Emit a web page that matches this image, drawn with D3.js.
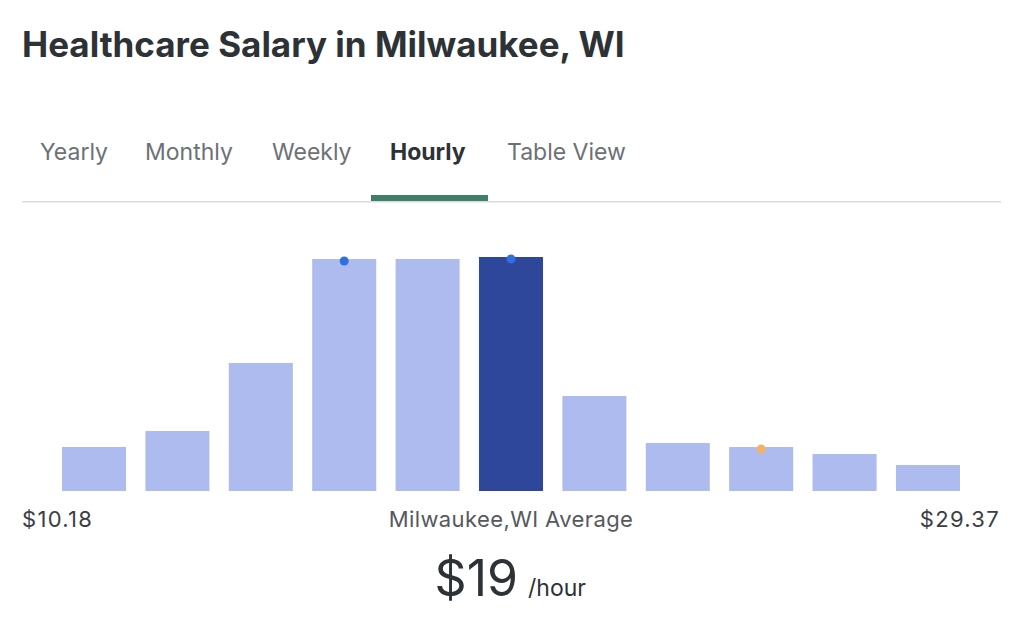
<!DOCTYPE html>
<html><head><meta charset="utf-8">
<script src="https://cdn.jsdelivr.net/npm/d3@7"></script>
<style>body{margin:0;background:#fff;} svg{display:block;}</style>
</head><body>
<script>
const tabs = ["Yearly","Monthly","Weekly","Hourly","Table View"];
const activeTab = "Hourly";
const bins = ["b1","b2","b3","b4","b5","b6","b7","b8","b9","b10","b11"];
const counts = [44, 60, 128, 232, 232, 234, 95, 48, 44, 37, 26];
const highlightBin = "b6";
const markerBins = ["b4","b6","b9"];
const markerColors = ["#2f6fe0","#2f6fe0","#f4b266"];
const minLabel = "$10.18", maxLabel = "$29.37";
const avgLabel = "Milwaukee,WI Average";
const avgValue = "$19", avgUnit = "/hour";

const W = 1024, H = 622;
const svg = d3.select("body").append("svg").attr("width", W).attr("height", H);
const font = "Inter, 'Open Sans', sans-serif";

svg.append("text").attr("x", 22).attr("y", 57).text("Healthcare Salary in Milwaukee, WI")
  .attr("font-family", font).attr("font-weight", 700).attr("font-size", 35).attr("fill", "#2d3237");

const tabX = [40, 145, 272, 390, 507];
svg.selectAll(".tab").data(tabs).join("text").attr("class","tab")
  .attr("x", (d,i)=>tabX[i]).attr("y", 160).text(d=>d)
  .attr("font-family", font).attr("font-size", 23)
  .attr("font-weight", d=>d===activeTab?700:400)
  .attr("fill", d=>d===activeTab?"#2d3237":"#6c7176");
svg.append("rect").attr("x", 22).attr("y", 201).attr("width", 979).attr("height", 1.5).attr("fill", "#dcdcdc");
svg.append("rect").attr("x", 371).attr("y", 195).attr("width", 117).attr("height", 6).attr("fill", "#3f7e69");

const x = d3.scaleBand().domain(bins).range([62, 960]).paddingInner(0.232).paddingOuter(0);
const y = d3.scaleLinear().domain([0, 234]).range([491, 257]);

svg.selectAll(".bar").data(bins).join("rect").attr("class","bar")
  .attr("x", d=>x(d)).attr("width", x.bandwidth())
  .attr("y", (d,i)=>y(counts[i])).attr("height", (d,i)=>y(0)-y(counts[i]))
  .attr("fill", d=>d===highlightBin?"#2f479b":"#aebbee");

svg.selectAll(".dot").data(markerBins).join("circle").attr("class","dot")
  .attr("cx", d=>x(d)+x.bandwidth()/2)
  .attr("cy", d=>y(counts[bins.indexOf(d)])+2)
  .attr("r", 4.5).attr("fill", (d,i)=>markerColors[i]);

const lab = {"font-family": font, "font-size": 22, "letter-spacing": 1.3, "fill": "#3a3f44"};
function t(xp, yp, s, anchor, attrs){
  const e = svg.append("text").attr("x", xp).attr("y", yp).text(s).attr("text-anchor", anchor);
  Object.entries(attrs).forEach(([k,v])=>e.attr(k,v));
  return e;
}
t(22, 527, minLabel, "start", lab);
t(1000, 527, maxLabel, "end", lab);
t(511, 527, avgLabel, "middle", {...lab, "letter-spacing": 0.4, fill:"#55595e"});
t(518, 596, avgValue, "end", {"font-family": font, "font-size": 50, "fill":"#2d3237"});
t(528, 596, avgUnit, "start", {"font-family": font, "font-size": 23, "fill":"#2d3237"});
</script>
</body></html>
